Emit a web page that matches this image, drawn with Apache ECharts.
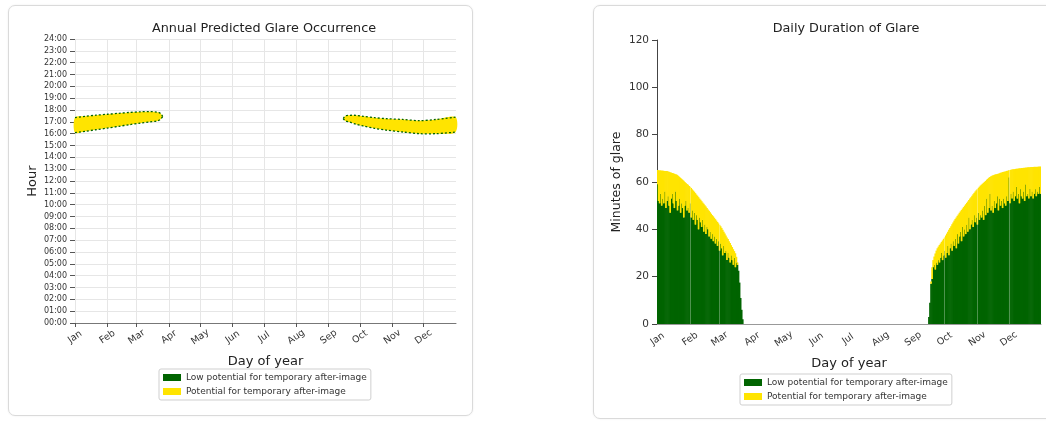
<!DOCTYPE html>
<html lang="en">
<head>
  <meta charset="utf-8">
  <script type="text/javascript" src="https://cdn.jsdelivr.net/npm/echarts@6/dist/echarts.min.js"></script>
  <style>
    body { margin: 0; width: 1046px; height: 421px; background: #fff; position: relative; overflow: hidden; }
    .panel { position: absolute; border: 1px solid #dadada; border-radius: 7px; box-shadow: 0 0 2px rgba(0,0,0,0.08); }
  </style>
</head>
<body>
  <div class="panel" id="occ" style="left:8px; top:5px; width:463px; height:409px"></div>
  <div class="panel" id="dur" style="left:593px; top:5px; width:460px; height:412px"></div>

  <script type="text/javascript">
    var months = ['Jan','Feb','Mar','Apr','May','Jun','Jul','Aug','Sep','Oct','Nov','Dec'];
    var monthStarts = [0,31,59,90,120,151,181,212,243,273,304,334];

    // glare window (hours of day), read at a few days of the year
    var springDays  = [0, 10, 20, 31, 42, 52, 63, 72, 79, 82, 84];
    var springLow   = [16.08, 16.2, 16.33, 16.47, 16.62, 16.76, 16.9, 17.0, 17.08, 17.22, 17.45];
    var springHigh  = [17.36, 17.47, 17.56, 17.64, 17.72, 17.79, 17.85, 17.86, 17.82, 17.7, 17.45];
    var autumnDays  = [257, 259, 263, 269, 276, 287, 298, 314, 330, 346, 364.5];
    var autumnLow   = [17.28, 17.08, 16.98, 16.8, 16.65, 16.45, 16.3, 16.14, 16.0, 16.0, 16.13];
    var autumnHigh  = [17.28, 17.5, 17.55, 17.55, 17.47, 17.35, 17.27, 17.2, 17.1, 17.2, 17.4];

    // daily minutes of glare: days 0..81 and 258..364, nothing in between
    var springStart = 0;
    var springTotal = [
      65.1, 65.0, 64.9, 64.9, 64.8, 64.8, 64.7, 64.7, 64.6, 64.6,
      64.4, 64.3, 64.1, 64.0, 63.8, 63.7, 63.5, 63.3, 63.2, 62.9,
      62.5, 62.1, 61.7, 61.3, 60.9, 60.5, 60.0, 59.6, 59.2, 58.8,
      58.3, 58.0, 57.5, 56.9, 56.4, 55.9, 55.3, 54.7, 54.2, 53.6,
      53.0, 52.5, 51.9, 51.3, 50.8, 50.2, 49.6, 49.0, 48.4, 47.8,
      47.2, 46.6, 46.0, 45.5, 44.9, 44.3, 43.7, 43.1, 42.5, 41.9,
      41.3, 40.6, 39.8, 39.0, 38.2, 37.4, 36.6, 35.9, 35.0, 34.2,
      33.3, 32.5, 31.6, 30.8, 29.9, 28.4, 26.0, 22.5, 17.5, 11.0,
      6.0, 2.0
    ];
    var springLowMin = [
      59, 52, 51, 55, 50, 53, 51, 56, 49, 52,
      54, 50, 47, 53, 55, 51, 49, 56, 52, 48,
      50, 53, 47, 51, 49, 45, 50, 52, 48, 49,
      47, 51, 45, 48, 44, 47, 42, 46, 44, 40,
      45, 43, 41, 44, 39, 42, 38, 41, 40, 37,
      39, 36, 38, 35, 37, 34, 36, 33, 35, 31,
      34, 32, 29, 33, 30, 31, 27, 30, 28, 26,
      29, 27, 25, 28, 24, 26, 25, 22.5, 17.5, 11,
      6, 2
    ];
    var autumnStart = 258;
    var autumnTotal = [
      3, 9, 18, 24, 27, 28.5, 29.8, 31, 32, 32.7,
      33.4, 34, 34.7, 35.3, 36, 36.6, 37.4, 38.2, 39, 39.8,
      40.6, 41.3, 42.1, 42.9, 43.7, 44.4, 45.0, 45.7, 46.3, 47.0,
      47.6, 48.2, 48.8, 49.4, 50.0, 50.6, 51.2, 51.8, 52.4, 53.0,
      53.6, 54.2, 54.8, 55.4, 56.0, 56.5, 57.0, 57.5, 58.0, 58.5,
      58.9, 59.3, 59.7, 60.1, 60.5, 61.0, 61.4, 61.8, 62.1, 62.4,
      62.6, 62.8, 63.0, 63.2, 63.3, 63.4, 63.5, 63.7, 63.9, 64.0,
      64.2, 64.3, 64.4, 64.5, 64.7, 64.8, 65.0, 65.1, 65.2, 65.3,
      65.4, 65.4, 65.5, 65.6, 65.6, 65.7, 65.8, 65.8, 65.9, 65.9,
      66.0, 66.0, 66.1, 66.1, 66.2, 66.2, 66.2, 66.3, 66.3, 66.3,
      66.4, 66.4, 66.4, 66.4, 66.5, 66.5, 66.5
    ];
    var autumnLowMin = [
      3, 9, 17, 19, 24, 25, 23, 26, 25, 27,
      26, 28, 30, 27, 29, 31, 28, 30, 33, 29,
      32, 34, 31, 35, 33, 36, 32, 38, 34, 37,
      39, 35, 41, 37, 40, 38, 42, 39, 45, 40,
      42, 44, 41, 46, 43, 45, 42, 47, 44, 46,
      45, 48, 44, 50, 46, 53, 47, 49, 55, 48,
      50, 47, 52, 49, 51, 54, 48, 53, 50, 52,
      49, 53, 51, 50, 54, 52, 62, 51, 55, 53,
      56, 52, 54, 58, 53, 55, 51, 57, 54, 53,
      56, 52, 59, 54, 55, 53, 57, 54, 56, 53,
      55, 57, 54, 56, 55, 58, 55
    ];

    var green = '#006400';
    var yellow = '#ffe400';
    var font = 'DejaVu Sans';
    var lowName = 'Low potential for temporary after-image';
    var potName = 'Potential for temporary after-image';

    // ---------- left: occurrence ----------
    var segments = [
      { days: springDays, low: springLow, high: springHigh },
      { days: autumnDays, low: autumnLow, high: autumnHigh }
    ];
    function edge(api, seg, key) {
      return seg.days.map(function (d, i) { return api.coord([d, seg[key][i]]); });
    }
    function renderFill(params, api) {
      var seg = segments[api.value(0)];
      var top = edge(api, seg, 'high');
      var bottom = edge(api, seg, 'low').reverse();
      return {
        type: 'polygon',
        shape: { points: top.concat(bottom), smooth: 0.3 },
        style: { fill: yellow, stroke: null }
      };
    }
    function renderOutline(params, api) {
      var seg = segments[api.value(0)];
      var st = { fill: null, stroke: green, lineWidth: 1.3, lineDash: [2, 2] };
      return {
        type: 'group',
        children: [
          { type: 'polyline', shape: { points: edge(api, seg, 'high'), smooth: 0.3 }, style: st },
          { type: 'polyline', shape: { points: edge(api, seg, 'low'), smooth: 0.3 }, style: st }
        ]
      };
    }

    var chart1 = echarts.init(document.getElementById('occ'));
    var option1 = {
      animation: false,
      textStyle: { fontFamily: font },
      title: {
        text: 'Annual Predicted Glare Occurrence', left: 250, top: 11, textAlign: 'center',
        textStyle: { fontSize: 12.8, fontWeight: 'normal', color: '#222', fontFamily: font }
      },
      grid: { left: 66, top: 33, width: 381, height: 284 },
      legend: {
        orient: 'vertical', left: 150, top: 363, itemWidth: 18, itemHeight: 7, itemGap: 5,
        borderColor: '#cfcfcf', borderWidth: 1, borderRadius: 2, padding: [4, 4],
        textStyle: { fontSize: 9, color: '#333', fontFamily: font },
        data: [
          { name: lowName, icon: 'rect', itemStyle: { color: green } },
          { name: potName, icon: 'rect', itemStyle: { color: yellow } }
        ]
      },
      xAxis: {
        type: 'value', min: 0, max: 365,
        name: 'Day of year', nameLocation: 'middle', nameGap: 32,
        nameTextStyle: { fontSize: 13, color: '#222', fontFamily: font },
        axisLine: { lineStyle: { color: '#777' } },
        axisTick: { customValues: monthStarts, length: 4, lineStyle: { color: '#555' } },
        axisLabel: {
          customValues: monthStarts, rotate: 35, align: 'center', verticalAlign: 'middle', margin: 14,
          fontSize: 9.5, color: '#333',
          formatter: function (v) { return months[monthStarts.indexOf(v)]; }
        },
        splitLine: { show: true, lineStyle: { color: '#e6e6e6' } }
      },
      yAxis: {
        type: 'value', min: 0, max: 24, interval: 1,
        name: 'Hour', nameLocation: 'middle', nameGap: 36, nameMoveOverlap: false,
        nameTextStyle: { fontSize: 13, color: '#222', fontFamily: font },
        axisLine: { show: false },
        axisTick: { show: true, length: 5, lineStyle: { color: '#555' } },
        axisLabel: {
          fontSize: 8, color: '#333', margin: 8,
          formatter: function (v) { return (v < 10 ? '0' : '') + v + ':00'; }
        },
        splitLine: { lineStyle: { color: '#e6e6e6' } }
      },
      series: [
        {
          name: potName, type: 'custom', renderItem: renderFill, z: 3,
          itemStyle: { color: yellow }, data: [[0, 0], [1, 0]]
        },
        {
          name: lowName, type: 'custom', renderItem: renderOutline, z: 4,
          itemStyle: { color: green }, data: [[0, 0], [1, 0]]
        }
      ]
    };
    chart1.setOption(option1);

    // ---------- right: daily duration ----------
    var dayCats = [];
    for (var d = 0; d < 365; d++) dayCats.push(String(d));
    var lowBars = [], potBars = [];
    for (var i = 0; i < springTotal.length; i++) {
      lowBars.push([springStart + i, springLowMin[i]]);
      potBars.push([springStart + i, springTotal[i] - springLowMin[i]]);
    }
    for (var i = 0; i < autumnTotal.length; i++) {
      lowBars.push([autumnStart + i, autumnLowMin[i]]);
      potBars.push([autumnStart + i, autumnTotal[i] - autumnLowMin[i]]);
    }
    var isMonthStart = function (idx) { return monthStarts.indexOf(idx) >= 0; };

    var chart2 = echarts.init(document.getElementById('dur'));
    var option2 = {
      animation: false,
      textStyle: { fontFamily: font },
      title: {
        text: 'Daily Duration of Glare', left: 247, top: 11, textAlign: 'center',
        textStyle: { fontSize: 12.8, fontWeight: 'normal', color: '#222', fontFamily: font }
      },
      grid: { left: 63, top: 34, width: 384, height: 284 },
      legend: {
        orient: 'vertical', left: 146, top: 368, itemWidth: 18, itemHeight: 7, itemGap: 5,
        borderColor: '#cfcfcf', borderWidth: 1, borderRadius: 2, padding: [4, 4],
        textStyle: { fontSize: 9, color: '#333', fontFamily: font },
        data: [
          { name: lowName, icon: 'rect', itemStyle: { color: green } },
          { name: potName, icon: 'rect', itemStyle: { color: yellow } }
        ]
      },
      xAxis: {
        type: 'category', data: dayCats,
        name: 'Day of year', nameLocation: 'middle', nameGap: 33,
        nameTextStyle: { fontSize: 13, color: '#222', fontFamily: font },
        axisLine: { lineStyle: { color: '#999' } },
        axisTick: { interval: isMonthStart, length: 4, lineStyle: { color: '#555' } },
        axisLabel: {
          interval: isMonthStart, rotate: 35, align: 'center', verticalAlign: 'middle', margin: 15,
          fontSize: 9.5, color: '#333',
          formatter: function (v, idx) { return months[monthStarts.indexOf(idx)]; }
        },
        splitLine: { show: false }
      },
      yAxis: {
        type: 'value', min: 0, max: 120, interval: 20,
        name: 'Minutes of glare', nameLocation: 'middle', nameGap: 34, nameMoveOverlap: false,
        nameTextStyle: { fontSize: 12.5, color: '#222', fontFamily: font },
        axisLine: { show: true, lineStyle: { color: '#444' } },
        axisTick: { show: true, length: 5, lineStyle: { color: '#444' } },
        axisLabel: { fontSize: 10.5, color: '#333', margin: 8 },
        splitLine: { show: false }
      },
      series: [
        {
          name: lowName, type: 'bar', stack: 'minutes', data: lowBars, barWidth: 1.7,
          itemStyle: { color: green },
          markLine: {
            silent: true, symbol: 'none', label: { show: false },
            lineStyle: { color: 'rgba(255,255,255,0.3)', width: 1, type: 'solid' },
            data: monthStarts.slice(1).map(function (d) { return { xAxis: String(d) }; })
          }
        },
        {
          name: potName, type: 'bar', stack: 'minutes', data: potBars, barWidth: 1.7,
          itemStyle: { color: yellow }
        }
      ]
    };
    chart2.setOption(option2);
  </script>
</body>
</html>
